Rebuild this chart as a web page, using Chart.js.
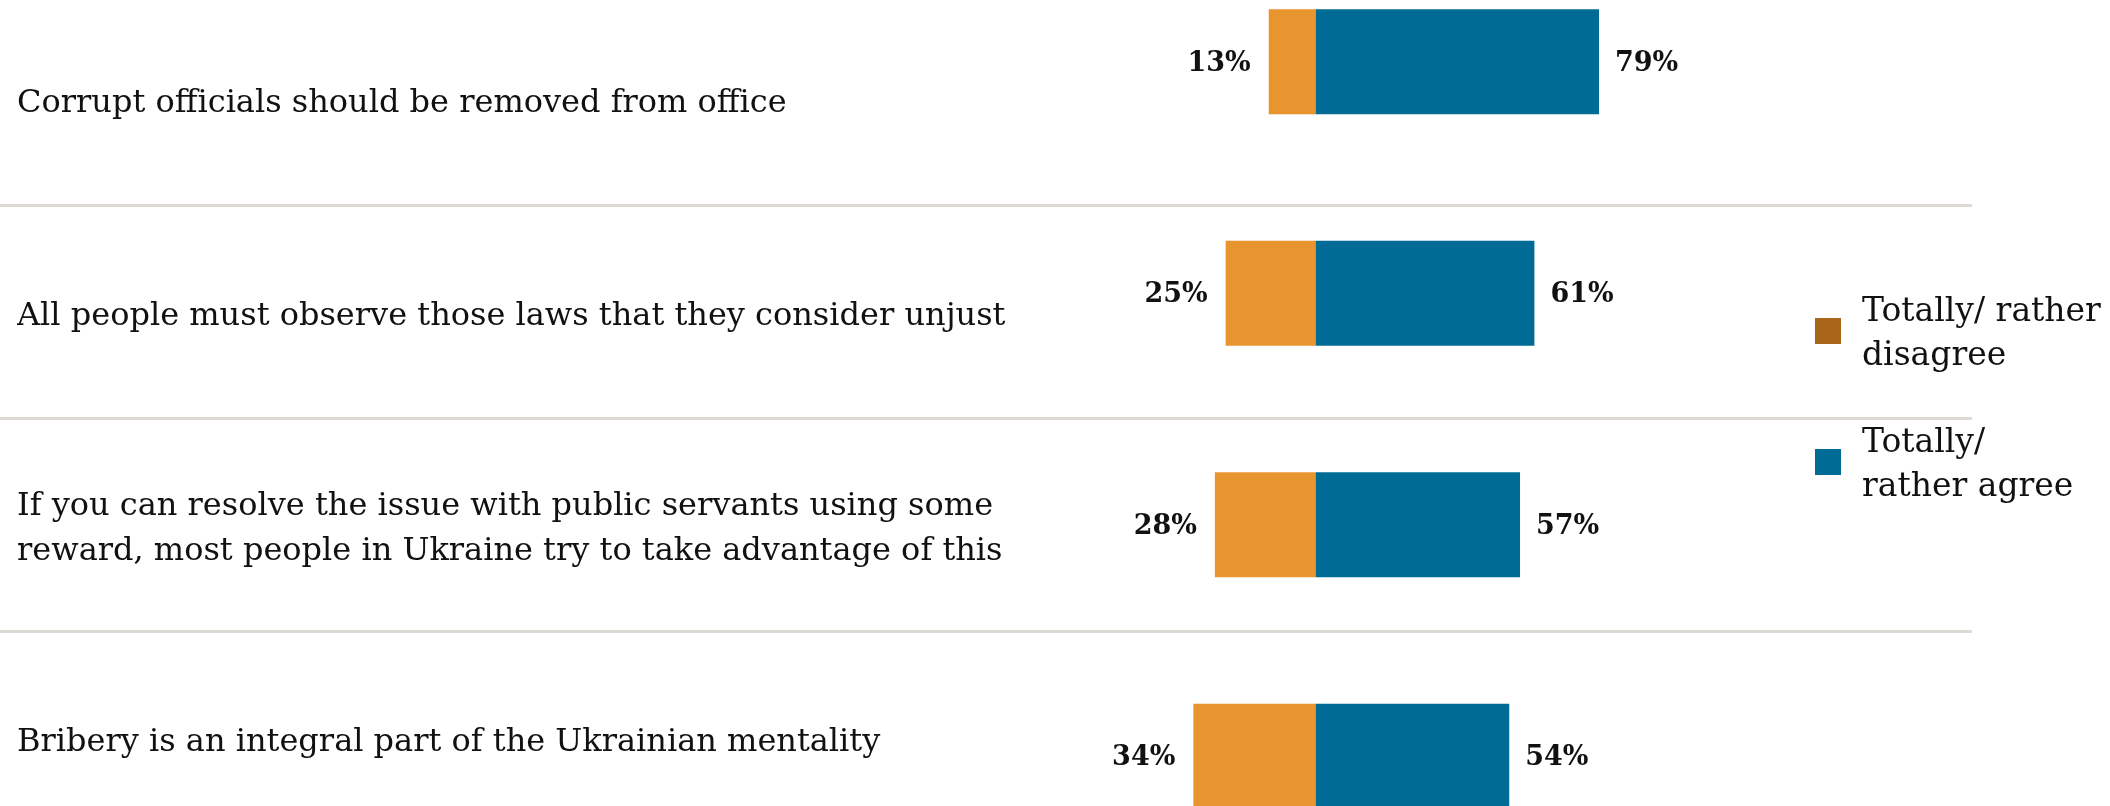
<!DOCTYPE html>
<html>
<head>
<meta charset="utf-8">
<script src="https://cdn.jsdelivr.net/npm/chart.js@4"></script>
<style>
  html, body { margin: 0; padding: 0; background: #ffffff; overflow: hidden; width: 2110px; height: 806px; }
  #wrap { position: absolute; left: 0; top: -54px; width: 2110px; height: 926px; }
</style>
</head>
<body>
<div id="wrap"><canvas id="c"></canvas></div>
<script>
// ---- data ----
const categories = [
  'Corrupt officials should be removed from office',
  'All people must observe those laws that they consider unjust',
  ['If you can resolve the issue with public servants using some', 'reward, most people in Ukraine try to take advantage of this'],
  'Bribery is an integral part of the Ukrainian mentality'
];
const seriesNames = ['Totally/ rather disagree', 'Totally/ rather agree'];
const legendLines = [['Totally/ rather', 'disagree'], ['Totally/', 'rather agree']];
const disagree = [13, 25, 28, 34];
const agree = [79, 61, 57, 54];

const ORANGE = '#E8952F';
const ORANGE_LEGEND = '#A9651A';
const BLUE = '#006C96';
const TEXT = '#111111';
const SERIF = '"DejaVu Serif", "Liberation Serif", serif';

const separatorPlugin = {
  id: 'separators',
  beforeDatasetsDraw(chart, args, opts) {
    const s = chart.scales.yRows;
    const ctx = chart.ctx;
    ctx.save();
    ctx.strokeStyle = opts.color;
    ctx.lineWidth = opts.width;
    for (let v = 1; v < categories.length; v++) {
      const y = Math.round(s.getPixelForValue(v)) + 0.5;
      ctx.beginPath();
      ctx.moveTo(0, y);
      ctx.lineTo(opts.right, y);
      ctx.stroke();
    }
    ctx.restore();
  }
};

const valueLabelPlugin = {
  id: 'valueLabels',
  afterDatasetsDraw(chart, args, opts) {
    const ctx = chart.ctx;
    ctx.save();
    ctx.font = opts.font;
    ctx.fillStyle = opts.color;
    ctx.textBaseline = 'middle';
    chart.data.datasets.forEach((ds, di) => {
      const meta = chart.getDatasetMeta(di);
      meta.data.forEach((bar, i) => {
        const v = ds.data[i];
        const txt = Math.abs(v) + '%';
        const left = Math.min(bar.x, bar.base);
        const right = Math.max(bar.x, bar.base);
        if (v < 0) {
          ctx.textAlign = 'right';
          ctx.fillText(txt, left - opts.gapLeft, bar.y + opts.dy);
        } else {
          ctx.textAlign = 'left';
          ctx.fillText(txt, right + opts.gapRight, bar.y + opts.dy);
        }
      });
    });
    ctx.restore();
  }
};

const sideLegendPlugin = {
  id: 'sideLegend',
  afterDraw(chart, args, opts) {
    const ctx = chart.ctx;
    ctx.save();
    ctx.font = opts.font;
    ctx.textAlign = 'left';
    ctx.textBaseline = 'alphabetic';
    legendLines.forEach((lines, i) => {
      const cy = opts.top + i * opts.spacing;
      ctx.fillStyle = opts.boxColors[i];
      ctx.fillRect(opts.x, cy - opts.box / 2, opts.box, opts.box);
      ctx.fillStyle = opts.color;
      lines.forEach((ln, k) => {
        ctx.fillText(ln, opts.x + opts.box + opts.textGap, cy + opts.firstBaseline + k * opts.lineHeight);
      });
    });
    ctx.restore();
  }
};

new Chart(document.getElementById('c'), {
  type: 'bar',
  data: {
    labels: categories.map(c => Array.isArray(c) ? c.join(' ') : c),
    datasets: [
      { label: seriesNames[0], data: disagree.map(v => -v), backgroundColor: ORANGE, borderWidth: 0,
        barPercentage: 0.4536, categoryPercentage: 1.0 },
      { label: seriesNames[1], data: agree, backgroundColor: BLUE, borderWidth: 0,
        barPercentage: 0.4536, categoryPercentage: 1.0 }
    ]
  },
  options: {
    indexAxis: 'y',
    responsive: true,
    maintainAspectRatio: false,
    animation: false,
    layout: { autoPadding: false, padding: { left: 17, right: 435.6, top: 0, bottom: 0 } },
    scales: {
      x: { stacked: true, min: -60, max: 100, display: false },
      y: { stacked: true, display: false },
      yRows: {
        type: 'linear',
        position: 'left',
        reverse: true,
        offset: false,
        bounds: 'data',
        min: -0.216,
        max: 4.131,
        grid: { display: false, drawTicks: false, offset: false },
        border: { display: false },
        afterBuildTicks: (scale) => { scale.ticks = categories.map((c, i) => ({ value: i + 0.5 })); },
        afterFit: (scale) => { scale.width = 1083; scale.paddingTop = 0; scale.paddingBottom = 0; },
        ticks: {
          autoSkip: false,
          crossAlign: 'far',
          labelOffset: 5,
          color: TEXT,
          font: { family: SERIF, size: 32, lineHeight: 1.41 },
          callback: (v, idx) => categories[idx]
        }
      }
    },
    plugins: {
      legend: { display: false },
      tooltip: { enabled: false },
      separators: { color: '#DDDAD6', width: 3, right: 1972 },
      valueLabels: { font: 'bold 27px ' + SERIF, color: TEXT, gapLeft: 18, gapRight: 16, dy: 2 },
      sideLegend: { font: '33px ' + SERIF, color: TEXT, x: 1815, top: 385, spacing: 131, box: 26,
        boxColors: [ORANGE_LEGEND, BLUE], textGap: 21, firstBaseline: -10, lineHeight: 44 }
    }
  },
  plugins: [separatorPlugin, valueLabelPlugin, sideLegendPlugin]
});
</script>
</body>
</html>
